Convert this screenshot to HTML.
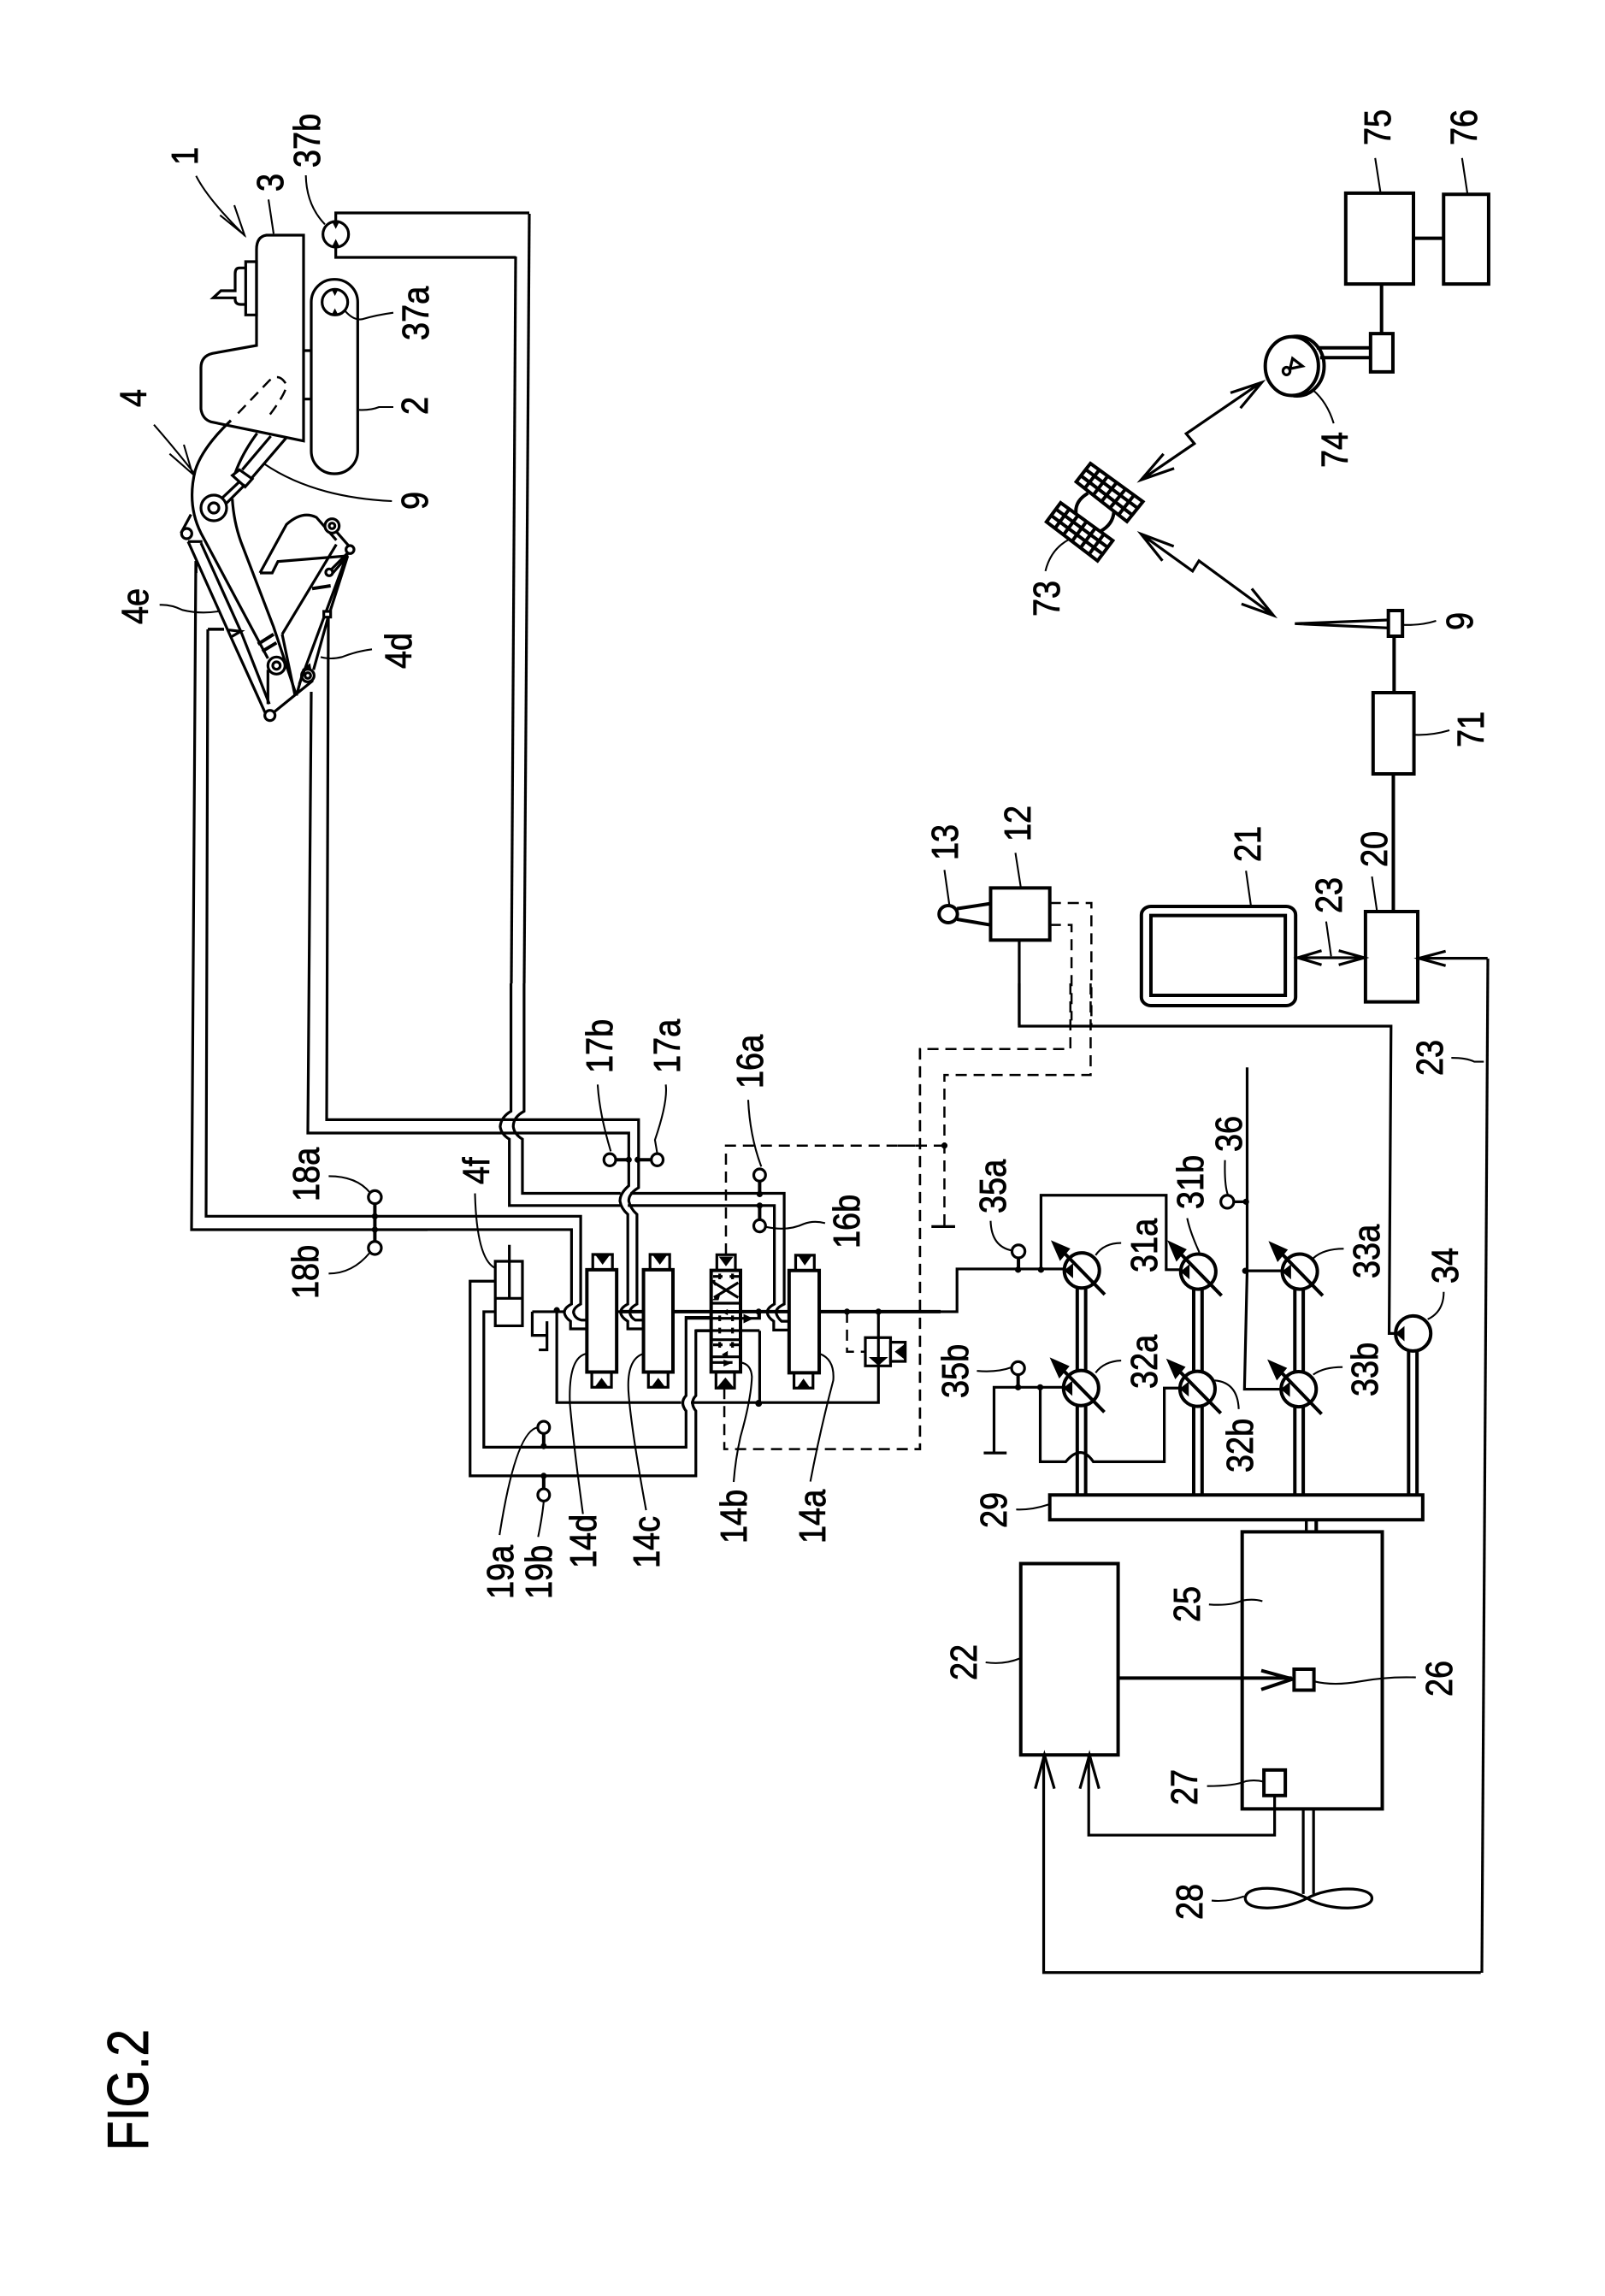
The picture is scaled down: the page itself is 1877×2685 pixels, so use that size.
<!DOCTYPE html>
<html><head><meta charset="utf-8"><style>
html,body{margin:0;padding:0;background:#fff;width:1877px;height:2685px;overflow:hidden}
svg{display:block}
svg *{vector-effect:non-scaling-stroke}
.d{fill:none;stroke:#000;stroke-width:3.2;stroke-linejoin:miter}
.d .t{stroke-width:2.1}
.d .k{stroke-width:4}
.d .w{fill:#fff}
.d .f{fill:#000;stroke:#000;stroke-width:1}
.d .h{stroke-dasharray:13 8;stroke-width:2.5}
text{font-family:"Liberation Sans",sans-serif;font-size:44px;fill:#000;stroke:#000;stroke-width:.8}
</style></head><body>
<svg width="1877" height="2685" viewBox="0 0 1877 2685" xmlns="http://www.w3.org/2000/svg">
<g class="d">
<!-- long linking pipes in page coordinates -->
<path d="M229,656 L224,1438 H500"/>
<path d="M243,736 H262 M243,736 L241,1422.3 H500"/>
<path d="M364,809 L360,1325 H500"/>
<path d="M384,722 L382,1309.4 H500"/>
<path d="M603,300 L598,1150"/>
<path d="M619,250 L613,1150"/>
<path d="M1740,1121 L1733,2307"/>

<!-- machine upper -->
<g transform="translate(200,100) scale(.33333)">
<path d="M465,525 H335 Q300,530 300,575 V912 L145,940 Q105,950 105,990 V1135 Q110,1170 140,1180 L465,1247 Z"/>
<rect x="262" y="618" width="38" height="187"/>
<path d="M262,640 H240 Q225,640 225,660 V720 H175 L148,745 H225 V750 Q225,768 245,768 H262"/>
<path d="M468,930 H495 M468,1100 H495"/>
<rect x="492" y="680" width="163" height="682" rx="80" ry="80"/>
<circle cx="575" cy="760" r="45"/>
<path class="f" d="M565,715 H585 L575,735 Z M565,805 H585 L575,785 Z"/>
<circle cx="578" cy="522" r="45"/>
<path class="f" d="M568,480 H588 L578,500 Z M568,562 H588 L578,542 Z"/>
<path d="M578,480 V447 H1257 M578,562 V603 H1210"/>
<path class="t" d="M473,315 Q475,420 540,487"/>
<path class="t" d="M342,400 L360,520"/>
<path class="t" d="M88,317 Q130,400 260,528 M222,420 L258,525 L172,455"/>
<path class="t" d="M610,790 Q640,825 670,820 Q720,805 780,797"/>
<path class="t" d="M660,1138 Q700,1140 730,1128 H780"/>
<path class="h" d="M235,1150 L345,1035 Q380,1005 405,1050 Q405,1080 335,1170"/>
</g>

<!-- boom and arm -->
<g transform="translate(180,450) scale(.33333)">
<path d="M270,125 Q170,220 145,300 Q115,420 165,520 L400,960"/>
<path d="M275,400 Q280,480 305,550 L420,850 L500,1090"/>
<path d="M362,170 Q310,240 285,310 M410,180 L310,298 M465,185 L345,325"/>
<path class="w" d="M275,318 L300,298 L345,330 L320,358 Z"/>
<path d="M300,340 L215,420 M320,350 L225,445"/>
<circle cx="210" cy="432" r="45" class="w"/>
<circle cx="210" cy="432" r="18"/>
<path d="M95,520 L130,455 M120,550 H170"/>
<circle cx="115" cy="522" r="18" class="w"/>
<path d="M120,550 L270,885 L390,1150 M165,555 L305,865 L405,1120 M262,860 L305,865 L270,885"/>
<path d="M148,620 V660"/>
<path d="M245,857 H190"/>
<path class="k" d="M365,910 L420,875 M380,935 L430,905"/>
<path d="M400,1000 V1120"/>
<circle cx="430" cy="985" r="30" class="w"/>
<circle cx="430" cy="985" r="13"/>
<path d="M407,1160 L555,1040 L545,985 L525,1000 L500,1090"/>
<circle cx="407" cy="1160" r="18" class="w"/>
<circle cx="540" cy="1020" r="22" class="w"/>
<circle cx="540" cy="1020" r="10"/>
<path d="M450,875 L495,1090 M450,875 L640,560"/>
<path d="M510,1050 L680,590 M560,1000 L610,820 L680,600"/>
<path class="k" d="M555,715 L620,705"/>
<rect x="596" y="795" width="24" height="20" class="w"/>
<path d="M372,660 H415 L435,620 L680,600 M372,660 L465,490 Q520,440 570,465 L640,545 M640,515 L688,570"/>
<circle cx="625" cy="495" r="25" class="w"/>
<circle cx="625" cy="495" r="10"/>
<circle cx="688" cy="578" r="14" class="w"/>
<circle cx="615" cy="658" r="12" class="w"/>
<path d="M622,648 L680,590 M628,660 L680,600"/>
<path class="t" d="M0,140 Q70,220 145,315 M105,210 L135,312 L55,242"/>
<path class="t" d="M388,278 Q560,395 835,408"/>
<path class="t" d="M585,955 Q620,965 660,955 Q710,935 765,928"/>
<path class="t" d="M20,772 Q60,770 100,790 Q160,805 225,795"/>
</g>

<!-- 18a 18b -->
<g transform="translate(100,1150) scale(.44643)">
<path class="k" d="M758,575 V645 M758,645 V680"/>
<ellipse cx="758" cy="560" rx="17" ry="17" class="w"/>
<ellipse cx="758" cy="693" rx="17" ry="17" class="w"/>
<circle cx="758" cy="610" r="7" class="f"/>
<circle cx="758" cy="645" r="7" class="f"/>
<path class="t" d="M637,505 Q710,505 745,548 M637,760 Q700,760 745,705"/>
</g>

<!-- hydraulics -->
<g transform="translate(500,1150) scale(.38265,.44643)">
<path d="M255,0 V335 Q225,350 222,375 Q225,395 250,408 V582 H590 M612,582 H1060 V840 Q1038,850 1038,862 Q1040,875 1058,885 V908 H1105"/>
<path d="M295,0 V335 Q262,350 262,375 Q265,395 290,408 V550 H590 M620,550 H1090 V840 Q1065,850 1065,862 Q1068,875 1082,885 H1105"/>
<path d="M0,357 H645 V535 Q615,550 615,570 Q620,590 640,605 V840 Q618,850 618,862 Q620,875 635,882 H660"/>
<path d="M0,392 H615 V530 Q588,550 588,570 Q592,590 612,605 V840 Q590,850 590,862 Q592,875 612,885 V905 H660"/>
<path d="M0,610 H468 V840 Q446,850 446,862 Q450,878 470,882 H487"/>
<path d="M0,645 H440 V840 Q418,850 418,862 Q420,875 437,885 V905 H487"/>
<path class="k" d="M590,860 H660 M750,860 H865 M958,860 H1105 M1197,860 H1568"/>
<path d="M320,860 H420"/>
<path d="M320,860 V922 H365 M340,960 H365 V885"/>
<path d="M395,860 V1098 H775 M805,1098 H1378 V1002"/>
<path d="M1378,860 V928"/>
<path d="M578,860 H590"/>
<!-- valves -->
<rect x="487" y="750" width="91" height="268" class="k w"/>
<rect x="505" y="710" width="60" height="40"/><path class="f" d="M515,712 H555 L535,735 Z"/>
<rect x="502" y="1018" width="60" height="40"/><path class="f" d="M512,1058 H552 L532,1035 Z"/>
<rect x="660" y="750" width="90" height="268" class="k w"/>
<rect x="680" y="710" width="60" height="40"/><path class="f" d="M690,712 H730 L710,735 Z"/>
<rect x="675" y="1018" width="60" height="40"/><path class="f" d="M685,1058 H725 L705,1035 Z"/>
<rect x="1105" y="752" width="92" height="268" class="k w"/>
<rect x="1125" y="712" width="57" height="40"/><path class="f" d="M1135,714 H1172 L1153,737 Z"/>
<rect x="1120" y="1020" width="58" height="40"/><path class="f" d="M1130,1060 H1168 L1149,1037 Z"/>
<path d="M1012,875 V860 M1015,910 V1100"/>
<!-- ports -->
<path d="M865,875 H790 V1080 Q770,1098 790,1120 V1215 H172 V860 H207"/>
<path d="M865,910 H820 V1080 Q800,1098 820,1120 V1290 H130 V780 H207"/>
<!-- cylinder 4f -->
<rect x="207" y="728" width="83" height="169" class="w"/>
<path d="M207,825 H290 M250,685 V825"/>
<!-- relief -->
<path class="h" d="M1282,860 V965 H1338"/>
<rect x="1338" y="928" width="77" height="74" class="w"/>
<path d="M1378,928 V985"/>
<path class="f" d="M1352,980 H1404 L1378,1000 Z"/>
<rect x="1415" y="940" width="45" height="50"/>
<path class="f" d="M1460,945 V985 L1430,965 Z"/>
<!-- sensors -->
<path class="k" d="M355,1163 V1212 M355,1290 V1340 M1015,502 V552 M1015,582 V635 M557,462 H615 M642,462 H702"/>
<ellipse cx="355" cy="1163" rx="18" ry="16" class="w"/>
<ellipse cx="355" cy="1340" rx="18" ry="16" class="w"/>
<ellipse cx="1015" cy="502" rx="18" ry="16" class="w"/>
<ellipse cx="1015" cy="635" rx="18" ry="16" class="w"/>
<ellipse cx="557" cy="462" rx="18" ry="16" class="w"/>
<ellipse cx="702" cy="462" rx="18" ry="16" class="w"/>
<g class="f">
<ellipse cx="355" cy="1212" rx="8" ry="7"/><ellipse cx="355" cy="1290" rx="8" ry="7"/>
<ellipse cx="1015" cy="552" rx="8" ry="7"/><ellipse cx="1015" cy="582" rx="8" ry="7"/>
<ellipse cx="615" cy="462" rx="8" ry="7"/><ellipse cx="642" cy="462" rx="8" ry="7"/>
<ellipse cx="395" cy="856" rx="8" ry="7"/><ellipse cx="1012" cy="860" rx="8" ry="7"/>
<ellipse cx="1012" cy="1100" rx="9" ry="8"/><ellipse cx="1282" cy="860" rx="8" ry="7"/>
<ellipse cx="1378" cy="860" rx="8" ry="7"/>
</g>
<!-- leaders -->
<g class="t">
<path class="t" d="M338,1163 Q270,1170 220,1445"/>
<path class="t" d="M355,1358 Q350,1400 338,1450"/>
<path class="t" d="M485,970 Q430,980 435,1100 Q445,1200 475,1390"/>
<path class="t" d="M660,970 Q605,985 615,1080 Q625,1180 668,1380"/>
<path class="t" d="M1198,970 Q1245,985 1240,1040 Q1200,1170 1170,1305"/>
<path class="t" d="M145,550 Q150,720 205,745"/>
<path class="t" d="M980,305 Q985,400 1020,480"/>
<path class="t" d="M1035,638 Q1100,650 1150,630 Q1180,620 1215,628"/>
<path class="t" d="M520,265 Q525,340 560,440"/>
<path class="t" d="M728,265 Q735,310 695,410 L702,445"/>
</g>
<!-- dashed -->
<path class="h" d="M912,710 V425 H1505 M1505,170 V1220 H907 V1060"/>
</g>

<!-- valve 14b, detailed -->
<g transform="translate(760,1420) scale(.33333)">
<rect x="235" y="142" width="65" height="55"/>
<path class="f" d="M245,150 H290 L267,180 Z"/>
<rect x="232" y="553" width="65" height="57"/>
<path class="f" d="M240,605 H290 L265,575 Z"/>
<rect x="215" y="197" width="103" height="356" class="k w"/>
<path d="M215,312 H318 M215,440 H318 M215,500 H318"/>
<path class="k" d="M215,342 H318"/>
<path d="M225,292 L310,240 M225,240 L310,292"/>
<path d="M222,218 H255 M280,218 H315 M245,208 V228 M290,208 V228"/>
<path d="M125,365 H385 V342 M160,408 H385"/>
<path d="M245,355 V375 M290,355 V375 M245,398 V418 M290,398 V418 M222,458 H255 M280,458 H312 M245,448 V468 M290,448 V468"/>
<path d="M220,520 H290"/>
<path class="f" d="M272,335 L255,343 L272,352 Z M330,352 L360,366 L330,380 Z M228,232 L215,232 L228,248 Z M245,282 L222,300 L240,300 Z M272,482 L255,492 L272,502 Z M260,512 L285,521 L260,532 Z"/>
<path class="t" d="M318,520 Q355,525 358,570 Q355,650 318,780 Q300,860 294,939"/>
</g>

<!-- pumps -->
<g transform="translate(1050,1150) scale(.44643)">
<path d="M0,860 H155 V748 H435"/>
<path d="M375,750 V555 H703 V750 H745"/>
<path d="M252,1228 V1058 H435 M225,1230 H285"/>
<path d="M373,1058 V1253 H440 Q480,1205 512,1253 H698 V1060 H740"/>
<path d="M915,220 V753 L908,1063 H1005 M910,753 H1005 M863,572 H912"/>
<path d="M318,0 V112 H1292 L1287,917 H1305"/>
<!-- dashed -->
<path class="h" d="M505,0 V240 H122 V635 M0,425 H122 M452,0 V172 H58 V1220 H0"/>
<path d="M88,637 H150"/>
<circle cx="122" cy="425" r="7" class="f"/>
<!-- shafts -->
<path class="k" d="M470,795 V1020 M492,795 V1020 M470,1100 V1340 M492,1100 V1340"/>
<path class="k" d="M775,795 V1020 M797,795 V1020 M775,1100 V1340 M797,1100 V1340"/>
<path class="k" d="M1040,795 V1020 M1062,795 V1020 M1040,1100 V1340 M1062,1100 V1340"/>
<path class="k" d="M1338,960 V1340 M1360,960 V1340"/>
<path d="M1070,1405 V1440 M1095,1405 V1440"/>
<rect x="398" y="1340" width="977" height="65" class="k w"/>
<!-- pump symbols -->
<g id="pumps">
<circle cx="482" cy="752" r="46" class="k w"/><path class="k" d="M420,690 L542,815"/><path class="f" d="M403,675 L450,695 L425,725 Z M437,752 L458,735 V770 Z"/>
<circle cx="787" cy="755" r="46" class="k w"/><path class="k" d="M725,692 L848,818"/><path class="f" d="M708,675 L755,697 L730,727 Z M742,755 L763,738 V773 Z"/>
<circle cx="1053" cy="755" r="46" class="k w"/><path class="k" d="M990,692 L1113,818"/><path class="f" d="M973,677 L1020,698 L995,728 Z M1008,755 L1029,738 V773 Z"/>
<circle cx="480" cy="1060" r="46" class="k w"/><path class="k" d="M418,998 L541,1123"/><path class="f" d="M400,982 L448,1003 L423,1033 Z M435,1060 L456,1043 V1078 Z"/>
<circle cx="785" cy="1062" r="46" class="k w"/><path class="k" d="M722,1000 L846,1126"/><path class="f" d="M705,985 L752,1005 L727,1035 Z M740,1062 L761,1045 V1080 Z"/>
<circle cx="1050" cy="1063" r="46" class="k w"/><path class="k" d="M988,1002 L1110,1128"/><path class="f" d="M970,987 L1018,1008 L993,1038 Z M1005,1063 L1026,1046 V1081 Z"/>
<circle cx="1350" cy="917" r="46" class="k w"/><path class="f" d="M1305,917 L1326,900 V935 Z"/>
</g>
<path class="k" d="M316,720 V750 M315,1025 V1058"/>
<circle cx="316" cy="702" r="17" class="w"/>
<circle cx="315" cy="1008" r="17" class="w"/>
<circle cx="863" cy="572" r="17" class="w"/>
<g class="f">
<circle cx="315" cy="750" r="7"/><circle cx="375" cy="750" r="7"/><circle cx="315" cy="1058" r="7"/><circle cx="373" cy="1058" r="7"/>
<circle cx="912" cy="572" r="7"/><circle cx="910" cy="753" r="7"/>
</g>
<path class="t" d="M243,622 Q245,690 300,700"/>
<path class="t" d="M207,1015 Q260,1020 300,1005"/>
<path class="t" d="M857,463 Q855,530 865,555"/>
<path class="t" d="M518,712 Q540,680 585,680"/>
<path class="t" d="M518,1020 Q540,990 585,988"/>
<path class="t" d="M1088,720 Q1115,695 1168,695"/>
<path class="t" d="M1088,1025 Q1115,1005 1165,1005"/>
<path class="t" d="M830,1040 Q890,1045 893,1115"/>
<path class="t" d="M758,615 Q765,650 790,705"/>
<path class="t" d="M1388,880 Q1430,860 1430,808"/>
<path class="t" d="M310,1378 Q350,1380 395,1365"/>
<path class="t" d="M1450,195 Q1490,195 1510,205 H1535"/>
</g>

<!-- engine -->
<g transform="translate(1100,1750) scale(.44643,.38265)">
<rect x="790" y="108" width="367" height="847" class="k"/>
<rect x="210" y="205" width="255" height="585" class="k"/>
<path class="k" d="M465,555 H920"/>
<path class="k" d="M840,532 L922,558 L840,590"/>
<rect x="926" y="528" width="52" height="64" class="k w"/>
<rect x="847" y="836" width="56" height="78" class="k w"/>
<path d="M875,914 V1035 H388 V790"/>
<path d="M365,893 L390,790 L415,893"/>
<path d="M1415,1455 H270 V790"/>
<path d="M248,893 L272,790 L298,893"/>
<path d="M950,955 V1215 M977,955 V1215"/>
<path d="M958,72 V108 M985,72 V108"/>
<path d="M960,1228 C900,1190 800,1185 798,1228 C800,1270 900,1265 960,1228 C1020,1190 1130,1190 1130,1228 C1130,1265 1020,1270 960,1228 Z"/>
<path class="t" d="M978,565 Q1030,580 1100,565 Q1170,550 1245,553"/>
<path class="t" d="M118,507 Q165,515 208,495"/>
<path class="t" d="M703,330 Q760,335 790,318 Q820,312 843,320"/>
<path class="t" d="M698,885 Q770,885 800,870 Q825,865 847,872"/>
<path class="t" d="M710,1235 Q750,1240 795,1222"/>
</g>

<!-- controller, monitor -->
<g transform="translate(1050,700) scale(.44643,.33333)">
<rect x="1225" y="1098" width="137" height="317" class="k w"/>
<rect x="1245" y="330" width="107" height="285" class="k w"/>
<rect x="1285" y="42" width="37" height="90" class="k w"/>
<path class="k" d="M1300,132 V330 M1298,615 V1098"/>
<path d="M1285,75 L1040,88 L1285,103"/>
<rect x="638" y="1080" width="404" height="348" rx="25" ry="30" class="k"/>
<rect x="663" y="1112" width="352" height="280" class="k"/>
<path d="M1045,1260 H1225"/>
<path d="M1110,1235 L1048,1260 L1110,1285 M1155,1235 L1222,1260 L1155,1285"/>
<path d="M1545,1262 H1365"/>
<path d="M1435,1237 L1365,1262 L1435,1288"/>
<rect x="243" y="1015" width="155" height="183" class="k w"/>
<ellipse cx="132" cy="1107" rx="24" ry="30" class="k"/>
<path class="k" d="M155,1088 L243,1070 M155,1125 L243,1145"/>
<path d="M318,1198 V1497"/>
<path class="h" d="M398,1068 H507 V1500 M398,1145 H455 V1480"/>
<path class="t" d="M1322,92 Q1370,95 1410,78"/>
<path class="t" d="M1355,478 Q1400,480 1445,462"/>
<path class="t" d="M1242,975 L1255,1095"/>
<path class="t" d="M912,955 L925,1078"/>
<path class="t" d="M308,892 L322,1012"/>
<path class="t" d="M122,952 L135,1075"/>
<path class="t" d="M1122,1133 L1135,1255"/>
</g>

<!-- satellite, station -->
<g transform="translate(1150,100) scale(.41468,.44643)">
<rect x="1022" y="282" width="191" height="238" class="k"/>
<rect x="1298" y="285" width="127" height="235" class="k"/>
<path class="k" d="M1213,400 H1298 M1123,520 V650"/>
<rect x="1092" y="650" width="63" height="100" class="k w"/>
<path class="k" d="M940,687 H1092 M950,713 H1092"/>
<ellipse cx="885" cy="735" rx="76" ry="78" class="k"/>
<ellipse cx="870" cy="735" rx="75" ry="77" class="k w"/>
<circle cx="855" cy="748" r="10"/>
<path d="M865,742 L872,715 L900,735 Z"/>
<path class="t" d="M930,798 Q970,830 988,885"/>
<path class="t" d="M1105,190 L1120,280 M1350,190 L1365,282 M175,1272 Q190,1215 240,1190"/>
<path d="M783,778 L572,912 L595,938 L445,1033 M697,805 L785,778 L725,845 M508,965 L445,1033 L538,1003"/>
<path d="M445,1175 L590,1272 L608,1245 L818,1388 M537,1207 L445,1175 L505,1245 M757,1318 L818,1388 L728,1358"/>
<path class="k" d="M295,1068 Q255,1090 262,1125 M368,1118 Q365,1150 330,1168"/>
<path class="k" d="M302,990 L450,1090 L405,1142 L262,1038 Z M289,1006 L435,1107 M275,1022 L420,1125 M327,1007 L286,1055 M351,1023 L310,1073 M376,1040 L333,1090 M401,1057 L357,1107 M425,1073 L381,1125"/>
<path class="k" d="M218,1093 L365,1192 L322,1245 L178,1143 Z M205,1110 L351,1210 M191,1126 L336,1227 M242,1110 L202,1160 M267,1126 L226,1177 M291,1142 L250,1194 M316,1159 L274,1211 M340,1175 L298,1228"/>
</g>
</g>

<!-- labels -->
<g>
<text transform="translate(173,2515) rotate(-90) scale(.835,1)" style="font-size:68px">FIG.2</text>
<text transform="translate(231,193) rotate(-90) scale(.86,1)">1</text>
<text transform="translate(331,224) rotate(-90) scale(.86,1)">3</text>
<text transform="translate(374,196) rotate(-90) scale(.86,1)">37b</text>
<text transform="translate(501,398) rotate(-90) scale(.86,1)">37a</text>
<text transform="translate(500,485) rotate(-90) scale(.86,1)">2</text>
<text transform="translate(500,596) rotate(-90) scale(.86,1)">9</text>
<text transform="translate(171,476) rotate(-90) scale(.86,1)">4</text>
<text transform="translate(173,730) rotate(-90) scale(.86,1)">4e</text>
<text transform="translate(481,782) rotate(-90) scale(.86,1)">4d</text>
<text transform="translate(716,1255) rotate(-90) scale(.86,1)">17b</text>
<text transform="translate(795,1255) rotate(-90) scale(.86,1)">17a</text>
<text transform="translate(892,1273) rotate(-90) scale(.86,1)">16a</text>
<text transform="translate(1005,1460) rotate(-90) scale(.86,1)">16b</text>
<text transform="translate(572,1385) rotate(-90) scale(.86,1)">4f</text>
<text transform="translate(373,1405) rotate(-90) scale(.86,1)">18a</text>
<text transform="translate(372,1519) rotate(-90) scale(.86,1)">18b</text>
<text transform="translate(600,1870) rotate(-90) scale(.86,1)">19a</text>
<text transform="translate(645,1870) rotate(-90) scale(.86,1)">19b</text>
<text transform="translate(697,1834) rotate(-90) scale(.86,1)">14d</text>
<text transform="translate(771,1834) rotate(-90) scale(.86,1)">14c</text>
<text transform="translate(873,1805) rotate(-90) scale(.86,1)">14b</text>
<text transform="translate(965,1805) rotate(-90) scale(.86,1)">14a</text>
<text transform="translate(1176,1419) rotate(-90) scale(.86,1)">35a</text>
<text transform="translate(1132,1635) rotate(-90) scale(.86,1)">35b</text>
<text transform="translate(1353,1488) rotate(-90) scale(.86,1)">31a</text>
<text transform="translate(1407,1414) rotate(-90) scale(.86,1)">31b</text>
<text transform="translate(1452,1347) rotate(-90) scale(.86,1)">36</text>
<text transform="translate(1613,1495) rotate(-90) scale(.86,1)">33a</text>
<text transform="translate(1611,1633) rotate(-90) scale(.86,1)">33b</text>
<text transform="translate(1353,1624) rotate(-90) scale(.86,1)">32a</text>
<text transform="translate(1465,1722) rotate(-90) scale(.86,1)">32b</text>
<text transform="translate(1705,1501) rotate(-90) scale(.86,1)">34</text>
<text transform="translate(1177,1787) rotate(-90) scale(.86,1)">29</text>
<text transform="translate(1687,1258) rotate(-90) scale(.86,1)">23</text>
<text transform="translate(1626,170) rotate(-90) scale(.86,1)">75</text>
<text transform="translate(1727,170) rotate(-90) scale(.86,1)">76</text>
<text transform="translate(1576,547) rotate(-90) scale(.86,1)">74</text>
<text transform="translate(1239,721) rotate(-90) scale(.86,1)">73</text>
<text transform="translate(1722,737) rotate(-90) scale(.86,1)">9</text>
<text transform="translate(1735,874) rotate(-90) scale(.86,1)">71</text>
<text transform="translate(1622,1014) rotate(-90) scale(.86,1)">20</text>
<text transform="translate(1569,1068) rotate(-90) scale(.86,1)">23</text>
<text transform="translate(1474,1008) rotate(-90) scale(.86,1)">21</text>
<text transform="translate(1205,984) rotate(-90) scale(.86,1)">12</text>
<text transform="translate(1120,1006) rotate(-90) scale(.86,1)">13</text>
<text transform="translate(1142,1965) rotate(-90) scale(.86,1)">22</text>
<text transform="translate(1403,1897) rotate(-90) scale(.86,1)">25</text>
<text transform="translate(1698,1984) rotate(-90) scale(.86,1)">26</text>
<text transform="translate(1400,2111) rotate(-90) scale(.86,1)">27</text>
<text transform="translate(1406,2245) rotate(-90) scale(.86,1)">28</text>
</g>
</svg>
</body></html>
